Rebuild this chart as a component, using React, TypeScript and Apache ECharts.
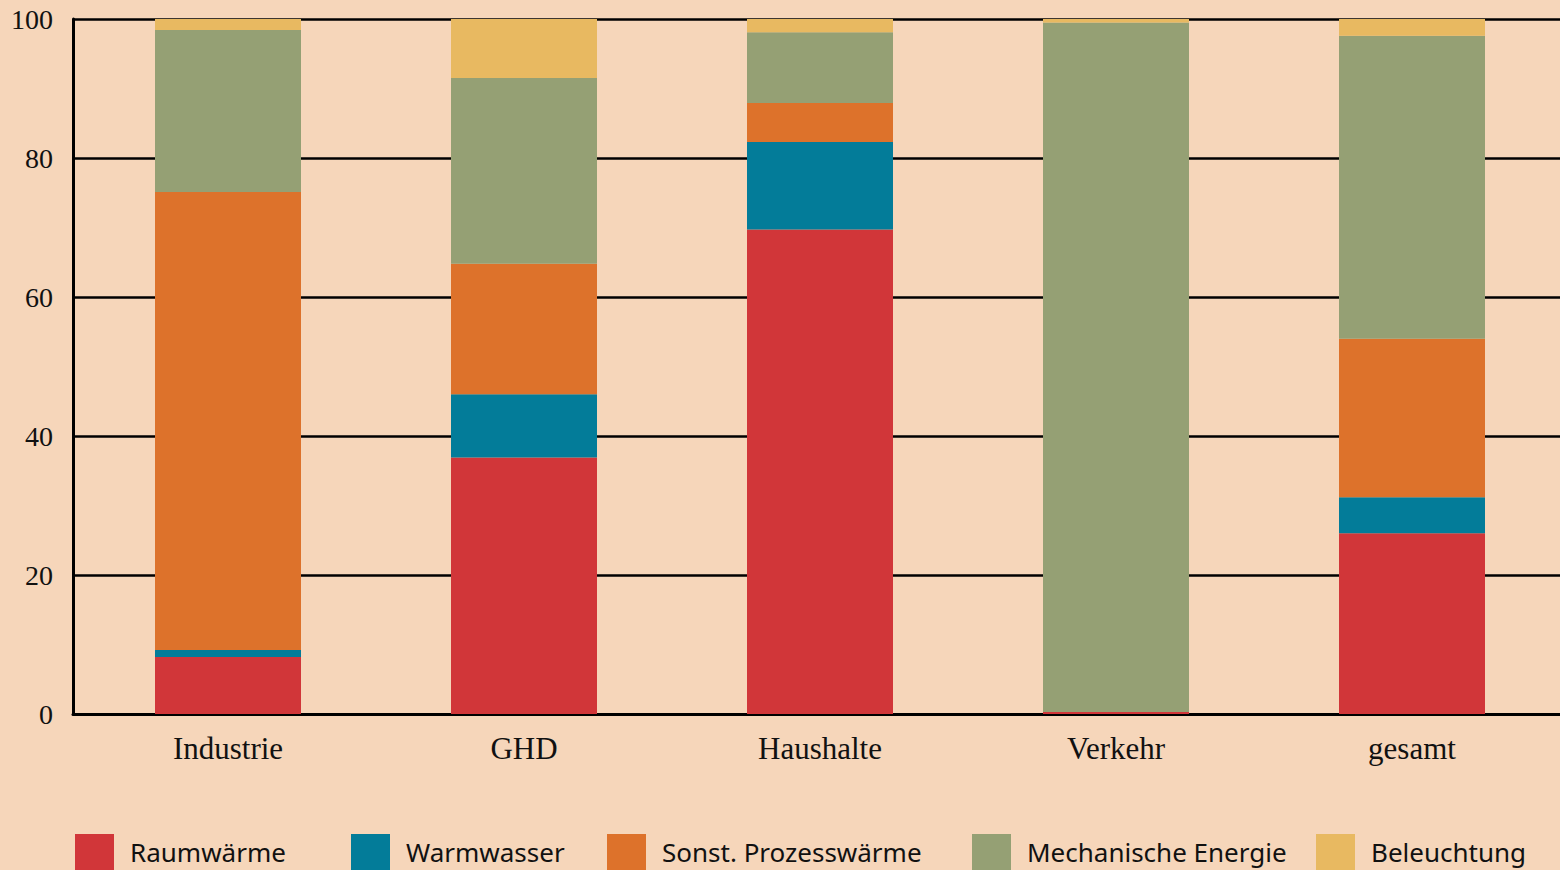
import React, { useEffect, useRef } from "react";
import * as echarts from "echarts";

const categories = ["Industrie", "GHD", "Haushalte", "Verkehr", "gesamt"];
const seriesNames = ["Raumwärme", "Warmwasser", "Sonst. Prozesswärme", "Mechanische Energie", "Beleuchtung"];
const raumwaerme = [8.2, 36.9, 69.7, 0.3, 26.0];
const warmwasser = [1.0, 9.1, 12.6, 0, 5.2];
const prozesswaerme = [65.9, 18.8, 5.6, 0, 22.8];
const mechanisch = [23.3, 26.7, 10.2, 99.2, 43.6];
const beleuchtung = [1.6, 8.5, 1.9, 0.5, 2.4];
const yTicks = [0, 20, 40, 60, 80, 100];

const colors = ["#D13639", "#037C99", "#DD722B", "#95A074", "#E8B961"];
const legendLeft = [70, 346, 602, 967, 1311];

export default function App() {
  const ref = useRef<HTMLDivElement>(null);
  useEffect(() => {
    if (!ref.current) return;
    const chart = echarts.init(ref.current, null, { renderer: "svg" });
    const values = [raumwaerme, warmwasser, prozesswaerme, mechanisch, beleuchtung];
    chart.setOption({
      animation: false,
      backgroundColor: "#F6D6BA",
      grid: [
        { left: 73, top: 19, right: 0, bottom: 156 },
        { left: 80, top: 19, width: 1485, bottom: 156 },
      ],
      xAxis: [
        {
          gridIndex: 0,
          type: "value",
          min: 0,
          max: 1,
          axisLine: { show: true, lineStyle: { color: "#000", width: 3 } },
          axisTick: { show: false },
          axisLabel: { show: false },
          splitLine: { show: false },
        },
        {
          gridIndex: 1,
          type: "category",
          data: categories,
          axisLine: { show: false },
          axisTick: { show: false },
          axisLabel: {
            margin: 19,
            color: "#111",
            fontFamily: "Liberation Serif",
            fontSize: 31,
          },
        },
      ],
      yAxis: [
        {
          gridIndex: 0,
          type: "value",
          min: yTicks[0],
          max: yTicks[yTicks.length - 1],
          interval: 20,
          axisLine: { show: true, lineStyle: { color: "#000", width: 3 } },
          axisTick: { show: false },
          axisLabel: {
            margin: 20,
            color: "#111",
            fontFamily: "Liberation Serif",
            fontSize: 28,
          },
          splitLine: { show: true, lineStyle: { color: "#000", width: 2.5 } },
        },
        {
          gridIndex: 1,
          type: "value",
          min: 0,
          max: 100,
          show: false,
        },
      ],
      legend: seriesNames.map((n, i) => ({
        data: [n],
        left: legendLeft[i],
        top: 829,
        itemWidth: 39,
        itemHeight: 36,
        icon: "rect",
        selectedMode: false,
        textStyle: {
          fontFamily: "Noto Sans",
          fontSize: 26,
          lineHeight: 28,
          color: "#111",
          padding: [0, 0, 0, 11],
        },
      })),
      series: seriesNames.map((n, i) => ({
        name: n,
        type: "bar",
        stack: "total",
        xAxisIndex: 1,
        yAxisIndex: 1,
        barWidth: 146,
        itemStyle: { color: colors[i] },
        data: values[i],
      })),
    });
    return () => chart.dispose();
  }, []);
  return <div ref={ref} style={{ width: 1560, height: 870, position: "absolute", left: 0, top: 0 }} />;
}
